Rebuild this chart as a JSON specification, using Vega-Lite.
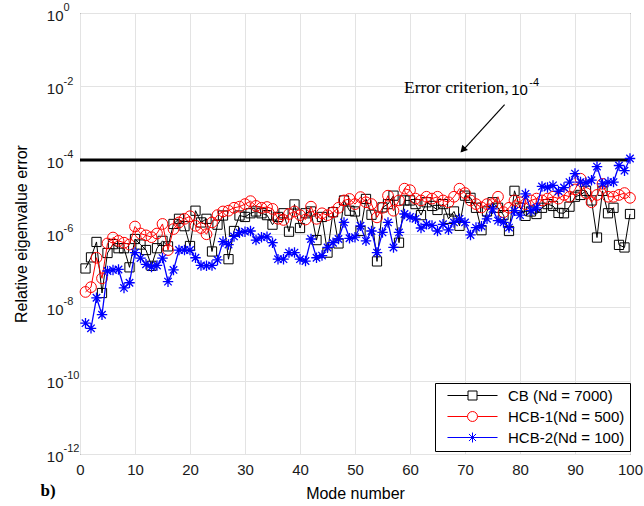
{
"$schema": "https://vega.github.io/schema/vega-lite/v6.json",
"width": 550, "height": 441,
"autosize": {"type": "none"},
"padding": {"left": 80, "top": 13, "right": 14, "bottom": 52},
"background": "white",
"config": {
  "view": {"stroke": "#262626", "strokeWidth": 1},
  "axis": {"grid": true, "gridColor": "#e3e3e3", "gridWidth": 1, "domain": false, "ticks": false,
           "labelFont": "Liberation Sans", "labelFontSize": 15, "labelColor": "#1a1a1a",
           "titleFont": "Liberation Sans", "titleFontSize": 16, "titleFontWeight": "normal", "titleColor": "#000000"}
},
"data": {"values": [
{"n":1,"CB":1.12e-7,"HCB-1":2.57e-8,"HCB-2":3.63e-9},
{"n":2,"CB":2.24e-7,"HCB-1":3.47e-8,"HCB-2":2.63e-9},
{"n":3,"CB":5.89e-7,"HCB-1":2.19e-7,"HCB-2":1.78e-8},
{"n":4,"CB":2.40e-8,"HCB-1":6.03e-8,"HCB-2":6.17e-9},
{"n":5,"CB":2.95e-7,"HCB-1":5.37e-7,"HCB-2":9.55e-8},
{"n":6,"CB":5.13e-7,"HCB-1":7.76e-7,"HCB-2":1.02e-7},
{"n":7,"CB":3.98e-7,"HCB-1":6.31e-7,"HCB-2":1.05e-7},
{"n":8,"CB":3.98e-7,"HCB-1":5.62e-7,"HCB-2":3.31e-8},
{"n":9,"CB":1.20e-7,"HCB-1":5.01e-7,"HCB-2":4.57e-8},
{"n":10,"CB":7.08e-7,"HCB-1":1.55e-6,"HCB-2":3.02e-7},
{"n":11,"CB":5.01e-7,"HCB-1":1.00e-6,"HCB-2":2.14e-7},
{"n":12,"CB":3.55e-7,"HCB-1":8.91e-7,"HCB-2":1.45e-7},
{"n":13,"CB":1.32e-7,"HCB-1":7.94e-7,"HCB-2":1.23e-7},
{"n":14,"CB":3.98e-7,"HCB-1":1.00e-6,"HCB-2":1.35e-7},
{"n":15,"CB":6.31e-7,"HCB-1":1.82e-6,"HCB-2":2.14e-7},
{"n":16,"CB":4.47e-7,"HCB-1":3.55e-7,"HCB-2":4.90e-8},
{"n":17,"CB":1.82e-6,"HCB-1":1.32e-6,"HCB-2":1.02e-7},
{"n":18,"CB":2.51e-6,"HCB-1":2.00e-6,"HCB-2":3.55e-7},
{"n":19,"CB":1.58e-6,"HCB-1":2.51e-6,"HCB-2":3.55e-7},
{"n":20,"CB":4.57e-7,"HCB-1":2.95e-6,"HCB-2":3.55e-7},
{"n":21,"CB":4.17e-6,"HCB-1":1.62e-6,"HCB-2":2.19e-7},
{"n":22,"CB":2.00e-6,"HCB-1":1.41e-6,"HCB-2":1.35e-7},
{"n":23,"CB":2.51e-6,"HCB-1":9.55e-7,"HCB-2":1.32e-7},
{"n":24,"CB":3.24e-7,"HCB-1":2.00e-6,"HCB-2":1.35e-7},
{"n":25,"CB":1.74e-6,"HCB-1":3.16e-6,"HCB-2":1.91e-7},
{"n":26,"CB":3.09e-6,"HCB-1":3.98e-6,"HCB-2":6.03e-7},
{"n":27,"CB":2.00e-7,"HCB-1":4.17e-6,"HCB-2":5.01e-7},
{"n":28,"CB":1.17e-6,"HCB-1":5.01e-6,"HCB-2":8.32e-7},
{"n":29,"CB":3.09e-6,"HCB-1":5.37e-6,"HCB-2":1.05e-6},
{"n":30,"CB":2.82e-6,"HCB-1":6.31e-6,"HCB-2":1.12e-6},
{"n":31,"CB":3.55e-6,"HCB-1":7.59e-6,"HCB-2":1.17e-6},
{"n":32,"CB":3.98e-6,"HCB-1":5.62e-6,"HCB-2":6.61e-7},
{"n":33,"CB":3.55e-6,"HCB-1":5.01e-6,"HCB-2":7.94e-7},
{"n":34,"CB":3.16e-6,"HCB-1":5.25e-6,"HCB-2":8.13e-7},
{"n":35,"CB":1.74e-6,"HCB-1":4.68e-6,"HCB-2":5.62e-7},
{"n":36,"CB":2.82e-6,"HCB-1":2.51e-6,"HCB-2":2.00e-7},
{"n":37,"CB":3.55e-6,"HCB-1":2.34e-6,"HCB-2":2.00e-7},
{"n":38,"CB":1.12e-6,"HCB-1":3.39e-6,"HCB-2":3.02e-7},
{"n":39,"CB":6.17e-6,"HCB-1":3.98e-6,"HCB-2":3.02e-7},
{"n":40,"CB":1.41e-6,"HCB-1":3.16e-6,"HCB-2":2.00e-7},
{"n":41,"CB":3.55e-6,"HCB-1":2.40e-6,"HCB-2":1.78e-7},
{"n":42,"CB":3.98e-6,"HCB-1":5.37e-6,"HCB-2":7.08e-7},
{"n":43,"CB":6.61e-7,"HCB-1":2.51e-6,"HCB-2":2.19e-7},
{"n":44,"CB":2.82e-6,"HCB-1":3.55e-6,"HCB-2":2.51e-7},
{"n":45,"CB":3.02e-7,"HCB-1":3.16e-6,"HCB-2":4.17e-7},
{"n":46,"CB":3.80e-6,"HCB-1":3.80e-6,"HCB-2":5.62e-7},
{"n":47,"CB":5.37e-7,"HCB-1":5.01e-6,"HCB-2":7.08e-7},
{"n":48,"CB":7.94e-6,"HCB-1":7.94e-6,"HCB-2":2.00e-6},
{"n":49,"CB":4.17e-6,"HCB-1":8.71e-6,"HCB-2":7.41e-7},
{"n":50,"CB":3.98e-6,"HCB-1":6.31e-6,"HCB-2":7.94e-7},
{"n":51,"CB":1.17e-6,"HCB-1":9.77e-6,"HCB-2":1.62e-6},
{"n":52,"CB":8.71e-6,"HCB-1":7.08e-6,"HCB-2":6.31e-7},
{"n":53,"CB":3.24e-6,"HCB-1":6.31e-6,"HCB-2":1.17e-6},
{"n":54,"CB":1.74e-7,"HCB-1":2.75e-6,"HCB-2":3.02e-7},
{"n":55,"CB":5.13e-6,"HCB-1":5.01e-6,"HCB-2":1.07e-6},
{"n":56,"CB":6.31e-6,"HCB-1":1.07e-5,"HCB-2":2.00e-6},
{"n":57,"CB":1.07e-5,"HCB-1":4.17e-6,"HCB-2":4.17e-7},
{"n":58,"CB":5.62e-7,"HCB-1":7.94e-6,"HCB-2":1.07e-6},
{"n":59,"CB":7.94e-6,"HCB-1":1.66e-5,"HCB-2":3.39e-6},
{"n":60,"CB":7.94e-6,"HCB-1":1.51e-5,"HCB-2":2.82e-6},
{"n":61,"CB":6.31e-6,"HCB-1":8.91e-6,"HCB-2":2.51e-6},
{"n":62,"CB":3.16e-6,"HCB-1":7.94e-6,"HCB-2":1.41e-6},
{"n":63,"CB":7.08e-6,"HCB-1":1.00e-5,"HCB-2":1.78e-6},
{"n":64,"CB":5.62e-6,"HCB-1":8.91e-6,"HCB-2":1.66e-6},
{"n":65,"CB":4.37e-6,"HCB-1":1.00e-5,"HCB-2":1.17e-6},
{"n":66,"CB":6.31e-6,"HCB-1":7.94e-6,"HCB-2":1.78e-6},
{"n":67,"CB":2.51e-6,"HCB-1":7.08e-6,"HCB-2":1.26e-6},
{"n":68,"CB":3.98e-6,"HCB-1":1.00e-5,"HCB-2":2.00e-6},
{"n":69,"CB":1.62e-6,"HCB-1":1.66e-5,"HCB-2":2.51e-6},
{"n":70,"CB":1.07e-5,"HCB-1":1.26e-5,"HCB-2":2.00e-6},
{"n":71,"CB":9.33e-6,"HCB-1":7.94e-6,"HCB-2":9.12e-7},
{"n":72,"CB":5.01e-6,"HCB-1":6.31e-6,"HCB-2":1.45e-6},
{"n":73,"CB":1.23e-6,"HCB-1":5.13e-6,"HCB-2":1.58e-6},
{"n":74,"CB":3.98e-6,"HCB-1":6.31e-6,"HCB-2":2.51e-6},
{"n":75,"CB":7.08e-6,"HCB-1":6.31e-6,"HCB-2":4.68e-6},
{"n":76,"CB":5.01e-6,"HCB-1":1.00e-5,"HCB-2":2.24e-6},
{"n":77,"CB":3.16e-6,"HCB-1":3.80e-6,"HCB-2":2.00e-6},
{"n":78,"CB":1.17e-6,"HCB-1":5.01e-6,"HCB-2":1.45e-6},
{"n":79,"CB":1.45e-5,"HCB-1":7.94e-6,"HCB-2":4.17e-6},
{"n":80,"CB":5.01e-6,"HCB-1":7.08e-6,"HCB-2":3.16e-6},
{"n":81,"CB":3.02e-6,"HCB-1":6.31e-6,"HCB-2":1.20e-5},
{"n":82,"CB":3.98e-6,"HCB-1":7.94e-6,"HCB-2":4.17e-6},
{"n":83,"CB":3.39e-6,"HCB-1":8.91e-6,"HCB-2":5.01e-6},
{"n":84,"CB":5.01e-6,"HCB-1":7.94e-6,"HCB-2":1.91e-5},
{"n":85,"CB":6.31e-6,"HCB-1":8.91e-6,"HCB-2":1.78e-5},
{"n":86,"CB":5.62e-6,"HCB-1":1.00e-5,"HCB-2":2.04e-5},
{"n":87,"CB":3.63e-6,"HCB-1":8.91e-6,"HCB-2":1.41e-5},
{"n":88,"CB":3.55e-6,"HCB-1":1.12e-5,"HCB-2":1.78e-5},
{"n":89,"CB":5.37e-6,"HCB-1":1.00e-5,"HCB-2":2.51e-5},
{"n":90,"CB":1.00e-5,"HCB-1":1.58e-5,"HCB-2":4.27e-5},
{"n":91,"CB":1.12e-5,"HCB-1":3.09e-5,"HCB-2":2.51e-5},
{"n":92,"CB":1.45e-5,"HCB-1":1.26e-5,"HCB-2":2.40e-5},
{"n":93,"CB":7.94e-6,"HCB-1":7.08e-6,"HCB-2":2.82e-5},
{"n":94,"CB":7.76e-7,"HCB-1":1.12e-5,"HCB-2":6.61e-5},
{"n":95,"CB":1.45e-5,"HCB-1":2.24e-5,"HCB-2":2.24e-5},
{"n":96,"CB":3.55e-6,"HCB-1":1.00e-5,"HCB-2":2.51e-5},
{"n":97,"CB":5.01e-6,"HCB-1":1.00e-5,"HCB-2":2.51e-5},
{"n":98,"CB":4.90e-7,"HCB-1":1.12e-5,"HCB-2":7.08e-5},
{"n":99,"CB":4.17e-7,"HCB-1":1.26e-5,"HCB-2":5.13e-5},
{"n":100,"CB":3.39e-6,"HCB-1":9.33e-6,"HCB-2":1.10e-4}
]},
"layer": [
  {
    "data": {"values": [{}]},
    "mark": {"type": "rule", "color": "#000000", "strokeWidth": 3},
    "encoding": {"y": {"datum": 0.0001, "type": "quantitative"}}
  },
  {
    "transform": [{"fold": ["CB", "HCB-1", "HCB-2"], "as": ["series", "err"]}, {"filter": "datum.series == 'CB'"}],
    "mark": {"type": "line", "color": "#000000", "strokeWidth": 1},
    "encoding": {
      "x": {"field": "n", "type": "quantitative", "scale": {"domain": [0, 100], "nice": false, "zero": false},
            "axis": {"values": [0,10,20,30,40,50,60,70,80,90,100], "title": "Mode number", "labelPadding": 8, "titlePadding": 8, "labelFlush": false}},
      "y": {"field": "err", "type": "quantitative", "scale": {"type": "log", "domain": [1e-12, 1], "nice": false},
            "axis": {"values": [1e-12,1e-10,1e-8,1e-6,1e-4,1e-2,1], "title": "Relative eigenvalue error", "labelPadding": 17, "labelOffset": 2, "titlePadding": 17, "labelFlush": false,
                     "labelExpr": "'10'"}}
    }
  },
  {
    "transform": [{"fold": ["CB", "HCB-1", "HCB-2"], "as": ["series", "err"]}, {"filter": "datum.series == 'CB'"}],
    "mark": {"type": "point", "shape": "square", "size": 85, "filled": false, "color": "#000000", "strokeWidth": 1, "opacity": 1},
    "encoding": {"x": {"field": "n", "type": "quantitative"}, "y": {"field": "err", "type": "quantitative"}}
  },
  {
    "transform": [{"fold": ["CB", "HCB-1", "HCB-2"], "as": ["series", "err"]}, {"filter": "datum.series == 'HCB-1'"}],
    "mark": {"type": "line", "color": "#ff0000", "strokeWidth": 1},
    "encoding": {"x": {"field": "n", "type": "quantitative"}, "y": {"field": "err", "type": "quantitative"}}
  },
  {
    "transform": [{"fold": ["CB", "HCB-1", "HCB-2"], "as": ["series", "err"]}, {"filter": "datum.series == 'HCB-1'"}],
    "mark": {"type": "point", "shape": "circle", "size": 115, "filled": false, "color": "#ff0000", "strokeWidth": 1, "opacity": 1},
    "encoding": {"x": {"field": "n", "type": "quantitative"}, "y": {"field": "err", "type": "quantitative"}}
  },
  {
    "transform": [{"fold": ["CB", "HCB-1", "HCB-2"], "as": ["series", "err"]}, {"filter": "datum.series == 'HCB-2'"}],
    "mark": {"type": "line", "color": "#0000ff", "strokeWidth": 1.3},
    "encoding": {"x": {"field": "n", "type": "quantitative"}, "y": {"field": "err", "type": "quantitative"}}
  },
  {
    "transform": [{"fold": ["CB", "HCB-1", "HCB-2"], "as": ["series", "err"]}, {"filter": "datum.series == 'HCB-2'"}],
    "mark": {"type": "point", "shape": "M-1,0H1M0,-1V1M-0.71,-0.71L0.71,0.71M-0.71,0.71L0.71,-0.71", "size": 110, "filled": false, "color": "#0000ff", "strokeWidth": 1.3, "opacity": 1},
    "encoding": {"x": {"field": "n", "type": "quantitative"}, "y": {"field": "err", "type": "quantitative"}}
  },
  {
    "transform": [{"fold": ["CB", "HCB-1", "HCB-2"], "as": ["series", "err"]}, {"filter": "datum.n > 1000"}],
    "mark": {"type": "point", "filled": false, "size": 144, "strokeWidth": 1, "opacity": 1},
    "encoding": {
      "x": {"field": "n", "type": "quantitative"}, "y": {"field": "err", "type": "quantitative"},
      "color": {"field": "series", "type": "nominal",
        "scale": {"domain": ["CB", "HCB-1", "HCB-2"], "range": ["#000000", "#ff0000", "#0000ff"]},
        "legend": {"orient": "none", "legendX": 355, "legendY": 370, "title": null,
          "strokeColor": "#000000", "fillColor": "#ffffff", "padding": 5, "rowPadding": 5,
          "symbolOffset": 25, "labelOffset": 28, "symbolStrokeWidth": 1, "symbolSize": 144,
          "labelFont": "Liberation Sans", "labelFontSize": 15, "labelColor": "#000000", "labelLimit": 300,
          "labelExpr": "datum.label == 'CB' ? 'CB (Nd = 7000)' : datum.label == 'HCB-1' ? 'HCB-1(Nd = 500)' : 'HCB-2(Nd = 100)'"}},
      "shape": {"field": "series", "type": "nominal",
        "scale": {"domain": ["CB", "HCB-1", "HCB-2"],
          "range": ["M-4.17,0H-0.75M0.75,0H4.17M-0.75,-0.75H0.75V0.75H-0.75Z",
                    "M-4.17,0H-0.83M0.83,0H4.17M0.83,0A0.83,0.83,0,1,1,-0.83,0A0.83,0.83,0,1,1,0.83,0Z",
                    "M-4.17,0H4.17M0,-0.83V0.83M-0.59,-0.59L0.59,0.59M-0.59,0.59L0.59,-0.59"]},
        "legend": {"orient": "none", "legendX": 355, "legendY": 370, "title": null,
          "strokeColor": "#000000", "fillColor": "#ffffff", "padding": 5, "rowPadding": 5,
          "symbolOffset": 25, "labelOffset": 28, "symbolStrokeWidth": 1, "symbolSize": 144,
          "labelFont": "Liberation Sans", "labelFontSize": 15, "labelColor": "#000000", "labelLimit": 300,
          "labelExpr": "datum.label == 'CB' ? 'CB (Nd = 7000)' : datum.label == 'HCB-1' ? 'HCB-1(Nd = 500)' : 'HCB-2(Nd = 100)'"}}
    }
  },
  {
    "data": {"values": [{"v": 1, "e": "0"}, {"v": 0.01, "e": "-2"}, {"v": 0.0001, "e": "-4"}, {"v": 1e-6, "e": "-6"}, {"v": 1e-8, "e": "-8"}, {"v": 1e-10, "e": "-10"}, {"v": 1e-12, "e": "-12"}]},
    "mark": {"type": "text", "font": "Liberation Sans", "fontSize": 11, "align": "left", "baseline": "middle", "dy": -5, "color": "#1a1a1a"},
    "encoding": {"x": {"datum": -3.0, "type": "quantitative"}, "y": {"field": "v", "type": "quantitative", "title": "Relative eigenvalue error"}, "text": {"field": "e"}}
  },
  {
    "data": {"values": [{}]},
    "mark": {"type": "text", "text": "Error criterion,", "font": "Liberation Serif", "fontSize": 17.5, "align": "left", "baseline": "middle", "color": "#000000"},
    "encoding": {"x": {"datum": 58.9, "type": "quantitative"}, "y": {"datum": 0.0089, "type": "quantitative"}}
  },
  {
    "data": {"values": [{}]},
    "mark": {"type": "text", "text": "10", "font": "Liberation Sans", "fontSize": 15, "align": "left", "baseline": "middle", "dy": 2, "color": "#000000"},
    "encoding": {"x": {"datum": 78.4, "type": "quantitative"}, "y": {"datum": 0.0089, "type": "quantitative"}}
  },
  {
    "data": {"values": [{}]},
    "mark": {"type": "text", "text": "-4", "font": "Liberation Sans", "fontSize": 11, "align": "left", "baseline": "middle", "dy": -5, "color": "#000000"},
    "encoding": {"x": {"datum": 81.7, "type": "quantitative"}, "y": {"datum": 0.0089, "type": "quantitative"}}
  },
  {
    "data": {"values": [{}]},
    "mark": {"type": "rule", "color": "#000000", "strokeWidth": 1.2},
    "encoding": {"x": {"datum": 77.2, "type": "quantitative"}, "y": {"datum": 0.0032, "type": "quantitative"},
                 "x2": {"datum": 69.4}, "y2": {"datum": 0.00017}}
  },
  {
    "data": {"values": [{}]},
    "mark": {"type": "point", "shape": "triangle-up", "filled": true, "color": "#000000", "size": 60, "angle": 223, "opacity": 1},
    "encoding": {"x": {"datum": 69.6, "type": "quantitative"}, "y": {"datum": 0.000188, "type": "quantitative"}}
  },
  {
    "data": {"values": [{}]},
    "mark": {"type": "text", "text": "b)", "font": "Liberation Serif", "fontSize": 17, "fontWeight": "bold", "align": "center", "baseline": "middle", "color": "#000000"},
    "encoding": {"x": {"datum": -5.8, "type": "quantitative"}, "y": {"datum": 9.8e-14, "type": "quantitative"}}
  }
]
}
